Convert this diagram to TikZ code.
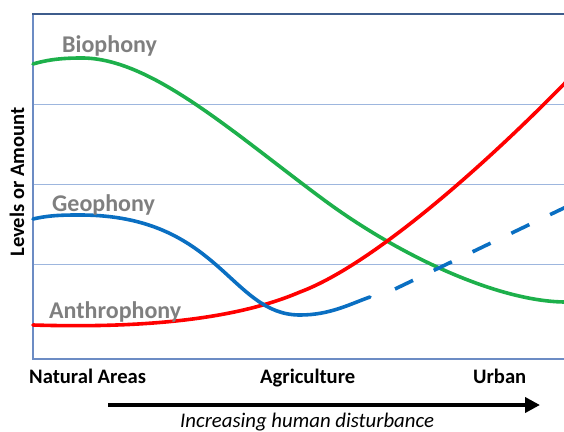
\documentclass[tikz,border=0pt]{standalone}
\usepackage{fontspec}
\setmainfont{Carlito}
\usetikzlibrary{arrows.meta}
\definecolor{bioGreen}{HTML}{1DB04B}
\definecolor{anthRed}{HTML}{FF0000}
\definecolor{geoBlue}{HTML}{0A6FC2}
\definecolor{labGray}{HTML}{7F7F7F}
\definecolor{frameTop}{HTML}{3E5C8C}
\definecolor{frameSide}{HTML}{6C8CC4}
\definecolor{gridBlue}{HTML}{9DB6DE}
\tikzset{
  curve/.style={line width=3.6pt, line cap=round, line join=round},
  gridline/.style={draw=gridBlue, line width=1pt},
  serieslabel/.style={anchor=base west, text=labGray, font=\bfseries\fontsize{24}{28}\selectfont, inner sep=0pt},
  axislabel/.style={anchor=base west, font=\bfseries\fontsize{20.6}{24}\selectfont, inner sep=0pt},
}
\begin{document}
\begin{tikzpicture}[x=1pt,y=-1pt]
\useasboundingbox (0,0) rectangle (564,431);
\begin{scope}
\clip (0,0) rectangle (564,431);
% grid
\draw[gridline] (33,104) -- (564,104);
\draw[gridline] (33,184) -- (564,184);
\draw[gridline] (33,264) -- (564,264);
% frame
\draw[draw=frameSide, line width=1.8pt] (33,14) -- (33,359) -- (564,359);
\draw[draw=frameTop, line width=2.4pt] (32.1,14) -- (564,14);
% biophony
\draw[curve, bioGreen] (33,64) .. controls (50,59) and (65,58) .. (82,58)
  .. controls (150,58) and (230,130) .. (320,197)
  .. controls (400,257) and (500,302) .. (566,302);
% anthrophony
\draw[curve, anthRed] (33,325) .. controls (130,328) and (230,322) .. (300,292)
  .. controls (370,266) and (480,170) .. (566,82);
% geophony
\draw[curve, geoBlue] (33,219) .. controls (50,215) and (65,215) .. (80,215)
  .. controls (220,215) and (230,315) .. (300,315)
  .. controls (330,315) and (350,304) .. (370,297);
\draw[curve, geoBlue, line cap=butt, dash pattern=on 20pt off 23pt] (395,289) -- (566,207);
\end{scope}
% labels
\node[serieslabel] (bio) at (62,52) {Biophony};
\node[serieslabel] (geo) at (52,211) {Geophony};
\node[serieslabel] (anth) at (49,318) {Anthrophony};
\node[axislabel] (nat) at (29,383) {Natural Areas};
\node[axislabel] (agr) at (260,383) {Agriculture};
\node[axislabel] (urb) at (473,383) {Urban};
\node[axislabel, rotate=90, anchor=base] (ylab) at (24,182) {Levels or Amount};
% arrow
\coordinate (arrS) at (108,405);
\coordinate (arrE) at (540,405);
\draw[line width=4pt, -{Triangle[length=15pt, width=15pt]}] (arrS) -- (arrE);
\node[anchor=base west, inner sep=0pt, font=\itshape\fontsize{20.8}{24}\selectfont] (dist) at (180,427) {Increasing human disturbance};
\end{tikzpicture}
\end{document}
